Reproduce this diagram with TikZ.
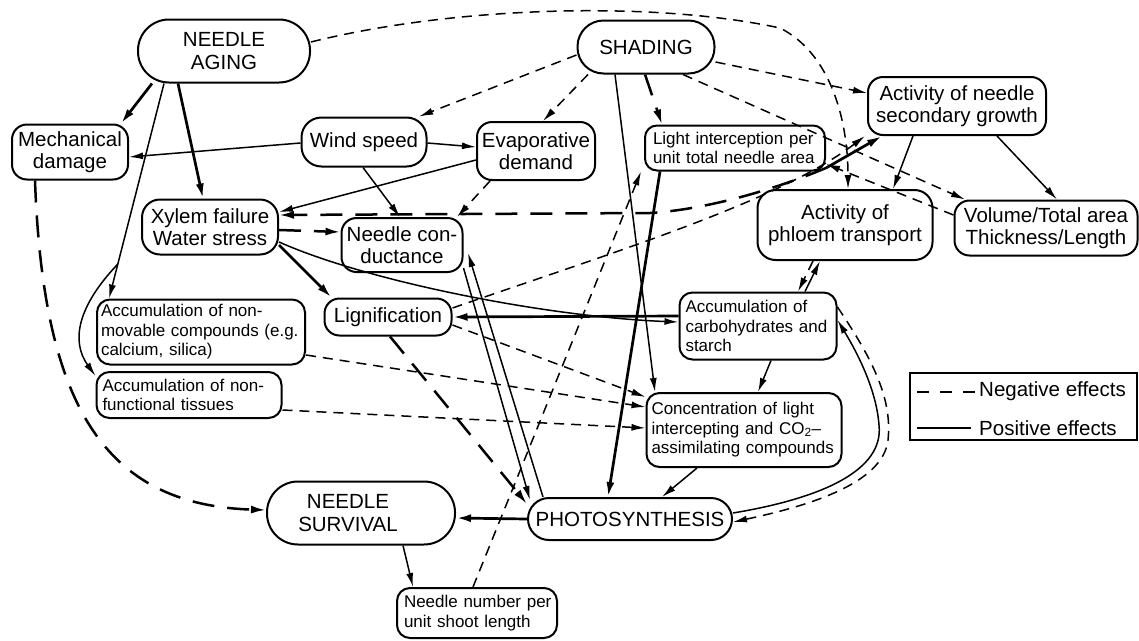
\documentclass[tikz,border=0pt]{standalone}
\usepackage{fontspec}
\setmainfont{Liberation Sans}
\usetikzlibrary{arrows.meta,calc}
\newcommand\fbig{\fontsize{20.5}{22.5}\selectfont}
\newcommand\fsmall{\fontsize{17}{19.5}\selectfont}
\begin{document}
\begin{tikzpicture}[x=1pt,y=-1pt,
  box/.style={draw,line width=2pt,rounded corners=15pt,inner sep=0pt,align=center,font=\fbig},
  sbox/.style={draw,line width=2pt,rounded corners=13pt,inner ysep=0pt,align=left,font=\fsmall},
  posa/.style={line width=1.5pt,-{Latex[length=14pt,width=7pt]}},
  poska/.style={line width=2.7pt,-{Latex[length=15pt,width=8pt]}},
  nega/.style={line width=1.5pt,dash pattern=on 10pt off 7pt,-{Latex[length=14pt,width=7pt]}},
  negka/.style={line width=2.5pt,dash pattern=on 22pt off 13pt,-{Latex[length=15pt,width=8pt]}},
]
\path[use as bounding box] (0,0) rectangle (1139,640);

% nodes
\node[box,minimum width=172pt,minimum height=63pt,rounded corners=31pt] (aging) at (224,51) {NEEDLE\\AGING};
\node[box,minimum width=137pt,minimum height=53pt,rounded corners=26pt] (shading) at (646,47) {SHADING};
\node[box,minimum width=116pt,minimum height=55pt] (mech) at (70,152) {Mechanical\\damage};
\node[box,minimum width=125pt,minimum height=49pt,rounded corners=20pt] (wind) at (364,142) {Wind speed};
\node[box,minimum width=118pt,minimum height=58pt] (evap) at (536,151) {Evaporative\\demand};
\node[sbox,text width=164pt,inner xsep=8pt,minimum height=45pt,rounded corners=12pt] (light) at (735,148) {Light interception per\\unit total needle area};
\node[box,minimum width=178pt,minimum height=58pt] (sec) at (957,106) {Activity of needle\\secondary growth};
\node[box,minimum width=136pt,minimum height=55pt,rounded corners=18pt] (xylem) at (210,227) {Xylem failure\\Water stress};
\node[box,minimum width=121pt,minimum height=54pt] (cond) at (402,245) {Needle con-\\ductance};
\node[box,minimum width=175pt,minimum height=70pt,rounded corners=18pt] (phloem) at (845,225) {Activity of\\phloem transport};
\node[box,minimum width=183pt,minimum height=55pt] (volume) at (1046,228) {Volume/Total area\\Thickness/Length};
\node[box,minimum width=127pt,minimum height=37pt,rounded corners=15pt] (lign) at (388,317) {Lignification};
\node[sbox,text width=200pt,inner xsep=4pt,minimum height=65pt] (nonmov) at (201,332) {Accumulation of non-\\movable compounds (e.g.\\calcium, silica)};
\node[sbox,text width=173pt,inner xsep=6pt,minimum height=46pt] (nonfunc) at (189,395) {Accumulation of non-\\functional tissues};
\node[sbox,text width=145pt,inner xsep=6pt,minimum height=67pt] (carb) at (758,326) {Accumulation of\\carbohydrates and\\starch};
\node[sbox,text width=185pt,inner xsep=5pt,minimum height=74pt] (conc) at (744,430) {Concentration of light\\intercepting and CO\textsubscript{2}--\\assimilating compounds};
\node[box,minimum width=204pt,minimum height=42pt,rounded corners=21pt] (photo) at (630,519) {PHOTOSYNTHESIS};
\node[box,minimum width=188pt,minimum height=63pt,rounded corners=31pt] (surv) at (361,513) {NEEDLE\hspace*{26pt}\\SURVIVAL\hspace*{26pt}};
\node[sbox,text width=154pt,inner xsep=3pt,minimum height=50pt] (number) at (477,613) {\hspace*{4pt}Needle number per\\\hspace*{4pt}unit shoot length};

% legend
\node[draw,line width=1.6pt,minimum width=227pt,minimum height=67pt,inner sep=0pt] (legend) at (1023.5,406.5) {};
\node[font=\fbig,anchor=west,inner sep=0pt] (negt) at (979,391) {Negative effects};
\node[font=\fbig,anchor=west,inner sep=0pt] (post) at (979,428) {Positive effects};
\draw[line width=1.5pt,dash pattern=on 12pt off 11pt] ([xshift=-62pt,yshift=-1pt]negt.west) -- ([xshift=-2pt,yshift=-1pt]negt.west);
\draw[line width=1.5pt] ([xshift=-62pt]post.west) -- ([xshift=-8pt]post.west);

% helper coordinates
\coordinate (br) at ($([xshift=-60pt]aging.south)!0.84!([xshift=-92pt]nonmov.north)$);
\coordinate (xb) at (650,213);
\coordinate (pc1) at (879,425);
\coordinate (pc2) at (888,440);
\coordinate (ac1) at (780,28);
\coordinate (lc) at ([yshift=-20pt]light.east);

% NEEDLE AGING
\draw[poska] ([xshift=-72pt]aging.south) -- ([xshift=51pt]mech.north);
\draw[poska] ([xshift=-46pt]aging.south) -- ([xshift=-7pt]xylem.north);
\draw[posa] ([xshift=-60pt]aging.south) -- ([xshift=-92pt]nonmov.north);
\draw[posa] (br) .. controls +(-40,42) and +(-25,-35) .. ([yshift=-5pt]nonfunc.north west);
\draw[nega] ([yshift=9pt]aging.east) .. controls +(140,-35) and +(-130,-28) .. (ac1) .. controls +(50,25) and +(0,-70) .. ([xshift=3pt]phloem.north);

% wind / evaporative
\draw[posa] ([yshift=-1pt]wind.west) -- ([yshift=-5pt]mech.east);
\draw[posa] ([yshift=-1pt]wind.east) -- ([yshift=4pt]evap.west);
\draw[posa] ([xshift=-1pt]wind.south) -- ([xshift=-2pt]cond.north);
\draw[posa] ([yshift=-9pt]evap.west) -- ([yshift=15pt]xylem.east);
\draw[nega] ([xshift=-46pt]evap.south) -- ([xshift=55pt]cond.north);

% xylem
\draw[negka] ([yshift=-3pt]xylem.east) -- ([yshift=13pt]cond.west);
\draw[negka] (lc) .. controls +(-60,25) and +(50,-3) .. (xb) -- ([yshift=12pt]xylem.east);
\draw[poska] ([yshift=-18pt]xylem.east) -- ([xshift=8pt]lign.north west);
\draw[posa] ([yshift=-15pt]xylem.east) .. controls +(90,40) and +(-130,-5) .. ([yshift=4pt]carb.west);
\draw[poska] ([yshift=10pt]carb.west) -- (lign.east);

% conductance <-> photosynthesis
\draw[posa] ([xshift=-87pt]photo.north) -- ([xshift=4.5pt,yshift=-8pt]cond.east);
\draw[posa] ([yshift=-23pt]cond.east) -- ([xshift=3pt,yshift=-3pt]photo.north west);

% lignification and accumulations
\draw[negka] ([xshift=2pt]lign.south) -- ([yshift=-7pt]photo.north west);
\draw[nega] ([yshift=-8pt]lign.east) -- ([yshift=-5pt]conc.north west);
\draw[nega] ([yshift=9pt]lign.east) .. controls +(168,-58) and +(-86,65) .. ([xshift=-2pt]sec.south west);
\draw[nega] ([yshift=-23pt]nonmov.east) -- ([yshift=-15pt]conc.north west);
\draw[nega] ([yshift=-15pt]nonfunc.east) -- ([yshift=2pt]conc.west);

% light, shading
\draw[poska] ([xshift=-75pt]light.south) -- ([xshift=-22pt]photo.north);
\draw[poska] (lc) -- ([xshift=15pt]sec.south west);
\draw[posa] ([xshift=-31pt]shading.south) -- ([xshift=-89pt]conc.north);
\draw[nega] ([yshift=-8pt]shading.west) -- ([xshift=55pt]wind.north);
\draw[nega] ([xshift=-58pt]shading.south) -- ([xshift=7pt]evap.north);
\draw[negka] ([xshift=-1pt]shading.south) -- ([xshift=-73pt]light.north);
\draw[nega] ([yshift=-15pt]shading.east) -- ([yshift=13pt]sec.west);
\draw[nega] ([xshift=37pt]shading.south) -- ([xshift=-81pt]volume.north);
\draw[nega] ([yshift=13pt]volume.west) -- ([yshift=-16pt]light.east);

% carbohydrates, concentration, photosynthesis
\draw[posa] ([xshift=13pt]carb.south) -- ([xshift=14pt]conc.north);
\draw[posa] ([xshift=-47pt]conc.south) -- ([xshift=32pt]photo.north);
\draw[poska] (photo.west) -- ([yshift=-5pt]surv.east);
\draw[posa] ([xshift=42pt]surv.south) -- ([xshift=-64pt]number.north);
\draw[nega] ([xshift=-4pt]number.north) -- ([xshift=-3pt]light.south west);
\draw[posa] ([yshift=6pt]photo.east) .. controls +(90,-15) and +(5,45) .. (pc1) .. controls +(-3,-40) and +(15,25) .. ([yshift=6pt]carb.east);
\draw[nega] ([yshift=19pt]carb.east) .. controls +(30,45) and +(5,-45) .. (pc2) .. controls +(-5,45) and +(70,-15) .. ([yshift=-3pt]photo.east);
\draw[posa] ([xshift=47pt]carb.north) -- ([xshift=-25pt]phloem.south);
\draw[nega] ([xshift=-32pt]phloem.south) -- ([xshift=40pt]carb.north);

% secondary growth
\draw[posa] ([xshift=-44pt]sec.south) -- ([xshift=48pt]phloem.north);
\draw[posa] ([xshift=40pt]sec.south) -- ([xshift=11pt]volume.north);

% mechanical damage -> survival
\draw[negka] ([xshift=-35pt]mech.south) .. controls +(8,220) and +(-165,-5) .. ([yshift=3pt]surv.west);
\end{tikzpicture}
\end{document}
